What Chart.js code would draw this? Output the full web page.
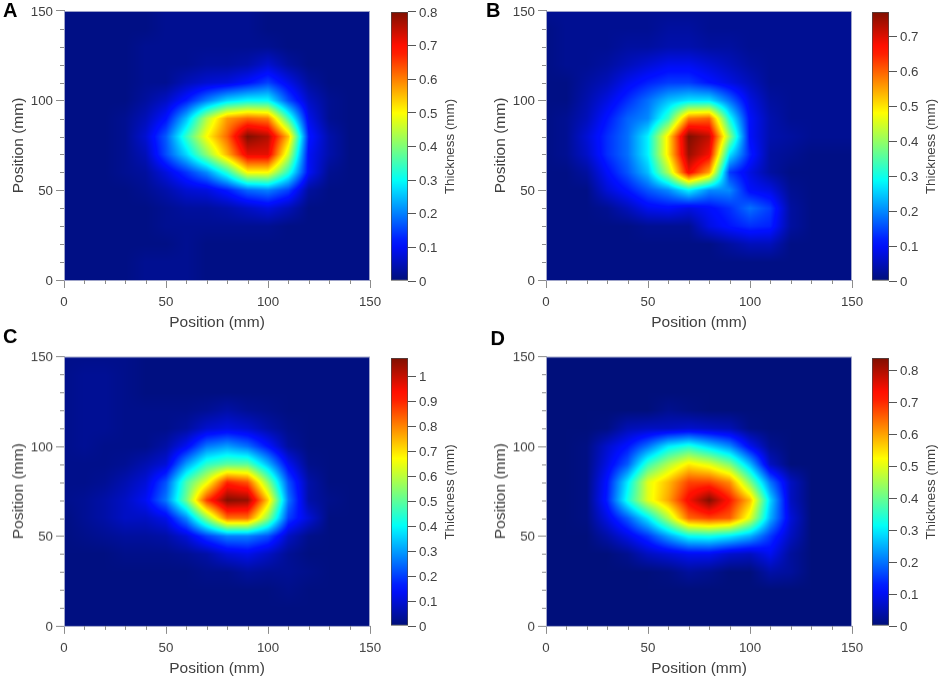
<!DOCTYPE html>
<html><head><meta charset="utf-8">
<script src="https://cdn.jsdelivr.net/npm/chart.js@4/dist/chart.umd.min.js"></script>
<style>html,body{margin:0;padding:0;background:#fff;width:941px;height:678px;overflow:hidden}canvas{position:absolute;display:block}</style>
</head><body>
<script>
const positions = [0,10,20,30,40,50,60,70,80,90,100,110,120,130,140,150];
const minorTicks = [10,20,30,40,60,70,80,90,110,120,130,140];
const rowsDescending = [150,140,130,120,110,100,90,80,70,60,50,40,30,20,10,0];
const barMaxA = 0.8, barMaxB = 0.769, barMaxC = 1.073, barMaxD = 0.84;
const thicknessA = [
[.01,.01,.01,.01,.01,.02,.02,.02,.02,.02,.01,.01,.01,.01,.01,.01],
[.01,.01,.01,.01,.01,.02,.02,.02,.02,.02,.01,.01,.01,.01,.01,.01],
[.01,.01,.01,.01,.02,.02,.02,.02,.02,.02,.02,.01,.01,.01,.01,.01],
[.01,.01,.01,.01,.02,.02,.02,.03,.03,.04,.07,.03,.01,.01,.01,.01],
[.01,.01,.01,.01,.02,.02,.05,.07,.08,.11,.15,.09,.03,.01,.01,.01],
[.01,.01,.01,.01,.03,.06,.12,.20,.27,.30,.30,.16,.06,.02,.01,.01],
[.01,.01,.01,.02,.05,.11,.25,.44,.58,.62,.60,.35,.09,.02,.01,.01],
[.01,.01,.01,.02,.07,.17,.34,.50,.62,.80,.76,.55,.12,.04,.01,.01],
[.01,.01,.01,.02,.05,.16,.27,.41,.56,.72,.72,.46,.10,.04,.01,.01],
[.01,.01,.01,.02,.03,.08,.14,.21,.33,.50,.50,.33,.10,.02,.01,.01],
[.01,.01,.01,.01,.02,.04,.07,.08,.12,.18,.20,.15,.03,.01,.01,.01],
[.01,.01,.01,.01,.01,.02,.03,.03,.04,.06,.08,.05,.01,.01,.01,.01],
[.01,.01,.01,.01,.01,.02,.02,.02,.02,.02,.02,.01,.01,.01,.01,.01],
[.01,.01,.01,.01,.01,.01,.02,.01,.01,.01,.01,.01,.01,.01,.01,.01],
[.01,.01,.01,.01,.02,.02,.02,.01,.01,.01,.01,.01,.01,.01,.01,.01],
[.01,.01,.01,.01,.02,.02,.02,.01,.01,.01,.01,.01,.01,.01,.01,.01]];
const thicknessB = [
[.02,.02,.02,.02,.02,.02,.02,.02,.02,.02,.02,.02,.02,.02,.02,.02],
[.01,.02,.02,.02,.02,.02,.03,.03,.02,.02,.02,.02,.02,.02,.02,.02],
[.01,.02,.02,.02,.03,.03,.04,.04,.03,.03,.02,.02,.02,.02,.02,.02],
[.01,.02,.02,.03,.05,.07,.09,.09,.07,.05,.03,.02,.02,.02,.02,.02],
[.01,.01,.03,.05,.09,.12,.14,.14,.11,.08,.05,.02,.02,.02,.02,.02],
[.01,.01,.04,.08,.13,.18,.24,.27,.27,.18,.08,.03,.02,.02,.02,.02],
[.01,.02,.05,.11,.17,.20,.33,.58,.60,.30,.10,.04,.02,.02,.02,.02],
[.01,.02,.07,.13,.18,.28,.50,.77,.72,.40,.10,.04,.03,.02,.02,.02],
[.01,.02,.06,.13,.18,.28,.50,.75,.68,.27,.12,.03,.02,.01,.01,.01],
[.01,.01,.03,.10,.16,.24,.42,.68,.55,.14,.08,.03,.01,.01,.01,.01],
[.01,.01,.01,.07,.11,.16,.20,.28,.20,.20,.10,.08,.02,.01,.01,.01],
[.01,.01,.01,.02,.05,.09,.10,.08,.10,.13,.18,.14,.03,.01,.01,.01],
[.01,.01,.01,.01,.01,.02,.02,.02,.08,.11,.13,.12,.03,.01,.01,.01],
[.01,.01,.01,.01,.01,.01,.01,.01,.01,.03,.05,.05,.01,.01,.01,.01],
[.01,.01,.01,.01,.01,.01,.01,.01,.01,.01,.01,.01,.01,.01,.01,.01],
[.01,.01,.01,.01,.01,.01,.01,.01,.01,.01,.01,.01,.01,.01,.01,.01]];
const thicknessC = [
[.02,.02,.02,.02,.01,.01,.01,.01,.01,.01,.01,.01,.01,.01,.01,.01],
[.02,.03,.03,.02,.01,.01,.01,.01,.01,.01,.01,.01,.01,.01,.01,.01],
[.02,.03,.03,.02,.01,.01,.01,.01,.01,.01,.01,.01,.01,.01,.01,.01],
[.02,.03,.03,.02,.02,.02,.02,.03,.05,.03,.02,.01,.01,.01,.01,.01],
[.02,.03,.03,.02,.02,.02,.04,.09,.11,.09,.05,.02,.01,.01,.01,.01],
[.02,.03,.02,.02,.02,.05,.13,.26,.30,.25,.15,.04,.01,.01,.01,.01],
[.02,.02,.02,.03,.06,.10,.30,.45,.50,.50,.33,.13,.02,.01,.01,.01],
[.02,.02,.03,.06,.10,.22,.48,.65,.90,.85,.55,.22,.05,.01,.01,.01],
[.02,.03,.05,.08,.13,.26,.52,.88,1.07,1.05,.72,.26,.05,.02,.01,.01],
[.01,.03,.05,.08,.08,.12,.28,.55,.82,.82,.55,.20,.10,.01,.01,.01],
[.01,.02,.03,.04,.04,.05,.10,.20,.27,.27,.22,.08,.02,.01,.01,.01],
[.01,.01,.01,.02,.02,.02,.03,.05,.10,.12,.08,.03,.01,.01,.01,.01],
[.01,.01,.01,.01,.01,.01,.01,.02,.02,.04,.03,.03,.02,.01,.01,.01],
[.01,.01,.01,.01,.01,.01,.01,.01,.01,.01,.01,.02,.01,.01,.01,.01],
[.01,.01,.01,.01,.01,.01,.01,.01,.01,.01,.01,.01,.01,.01,.01,.01],
[.01,.01,.01,.01,.01,.01,.01,.01,.01,.01,.01,.01,.01,.01,.01,.01]];
const thicknessD = [
[.003,.003,.003,.003,.003,.003,.003,.003,.003,.003,.003,.003,.003,.003,.003,.003],
[.003,.003,.003,.003,.003,.003,.003,.003,.003,.003,.003,.003,.003,.003,.003,.003],
[.003,.003,.003,.003,.003,.003,.003,.003,.003,.003,.003,.003,.003,.003,.003,.003],
[.003,.003,.003,.003,.003,.003,.02,.01,.003,.003,.003,.003,.003,.003,.003,.003],
[.003,.003,.003,.01,.05,.06,.06,.07,.06,.05,.01,.003,.003,.003,.003,.003],
[.003,.003,.01,.07,.12,.20,.30,.34,.28,.22,.10,.02,.003,.003,.003,.003],
[.003,.003,.01,.09,.18,.36,.46,.54,.50,.42,.26,.06,.003,.003,.003,.003],
[.003,.003,.01,.12,.30,.50,.58,.68,.68,.62,.42,.20,.06,.003,.003,.003],
[.003,.003,.01,.13,.33,.50,.60,.74,.84,.72,.58,.28,.06,.003,.003,.003],
[.003,.003,.01,.09,.18,.30,.46,.65,.68,.66,.50,.25,.08,.003,.003,.003],
[.003,.003,.003,.04,.09,.15,.24,.32,.33,.30,.25,.15,.06,.003,.003,.003],
[.003,.003,.003,.003,.02,.06,.08,.10,.10,.07,.06,.10,.03,.003,.003,.003],
[.003,.003,.003,.003,.003,.003,.01,.03,.02,.003,.003,.04,.03,.003,.003,.003],
[.003,.003,.003,.003,.003,.003,.003,.003,.003,.003,.003,.003,.003,.003,.003,.003],
[.003,.003,.003,.003,.003,.003,.003,.003,.003,.003,.003,.003,.003,.003,.003,.003],
[.003,.003,.003,.003,.003,.003,.003,.003,.003,.003,.003,.003,.003,.003,.003,.003]];
const letters = ['A','B','C','D'];
const xTitle = 'Position (mm)', yTitle = 'Position (mm)', barTitle = 'Thickness (mm)';

const FONT = '"Liberation Sans", Arial, sans-serif';
const TXT = '#3f3f3f', AX = '#8c8c8c';
const clamp = v => Math.max(0, Math.min(1, v));
function jet(f){
  return [clamp(1.5-Math.abs(4*f-3))*255,
          Math.max(clamp(1.5-Math.abs(4*f-2)),.06)*255,
          clamp(1.47-Math.abs(4*f-1))*255];
}
const layouts = [
 {canvasLeft:0,    plotLeft:64,  plotW:306, canvasTop:0,   plotTop:10,  plotH:270, barLeft:391,   barTop:11,  barH:271, lx:3,   ly:17},
 {canvasLeft:481.5,plotLeft:64,  plotW:306, canvasTop:0,   plotTop:10,  plotH:270, barLeft:872,   barTop:11,  barH:271, lx:4,   ly:17},
 {canvasLeft:0,    plotLeft:64,  plotW:306, canvasTop:326, plotTop:30.5,plotH:269, barLeft:391,   barTop:357, barH:270, lx:3,   ly:17},
 {canvasLeft:481.5,plotLeft:64,  plotW:306, canvasTop:326, plotTop:30.5,plotH:269, barLeft:872,   barTop:357, barH:270, lx:8.5, ly:19}
];
const grids = [thicknessA,thicknessB,thicknessC,thicknessD];
const maxes = [barMaxA,barMaxB,barMaxC,barMaxD];

const heatPlugin = {
  id:'heat',
  beforeDatasetsDraw(chart,_,o){
    const {ctx,chartArea:a,scales:{x,y}} = chart;
    const L=Math.round(a.left),T=Math.round(a.top),W=Math.round(a.right-a.left),H=Math.round(a.bottom-a.top);
    const img=ctx.createImageData(W,H);
    const rows=o.grid;
    for(let j=0;j<H;j++){
      const vy=y.getValueForPixel(T+j+.5);
      const r=Math.max(0,Math.min(14,Math.floor((150-vy)/10)));
      const ty=(rowsDescending[r]-vy)/10;
      for(let i=0;i<W;i++){
        const vx=x.getValueForPixel(L+i+.5);
        const c=Math.max(0,Math.min(14,Math.floor(vx/10)));
        const tx=(vx-positions[c])/10;
        const v=(rows[r][c]*(1-tx)+rows[r][c+1]*tx)*(1-ty)+(rows[r+1][c]*(1-tx)+rows[r+1][c+1]*tx)*ty;
        const col=jet(v/o.max),p=(j*W+i)*4;
        img.data[p]=col[0];img.data[p+1]=col[1];img.data[p+2]=col[2];img.data[p+3]=255;
      }
    }
    ctx.putImageData(img,L,T);
  },
  afterDraw(chart,_,o){
    const {ctx,chartArea:a,scales:{x,y}} = chart;
    ctx.save();
    ctx.strokeStyle='#9ea3c9';ctx.lineWidth=1;
    ctx.strokeRect(a.left+.5,a.top+.5,a.right-a.left-1,a.bottom-a.top);
    ctx.strokeStyle=AX;ctx.beginPath();
    minorTicks.forEach(m=>{
      const px=Math.round(x.getPixelForValue(m))+.5,py=Math.round(y.getPixelForValue(m))+.5;
      ctx.moveTo(px,a.bottom);ctx.lineTo(px,a.bottom+4);
      ctx.moveTo(a.left,py);ctx.lineTo(a.left-4,py);
    });
    ctx.stroke();
    ctx.fillStyle='#000';ctx.font='bold 20px '+FONT;ctx.textBaseline='alphabetic';
    ctx.fillText(o.letter,o.lx,o.ly);
    ctx.restore();
  }
};
const barTitlePlugin = {
  id:'barTitle',
  afterDraw(chart,_,o){
    const {ctx,chartArea:a}=chart;
    ctx.save();
    ctx.translate(a.left+59.5,(a.top+a.bottom)/2);
    ctx.rotate(-Math.PI/2);
    ctx.fillStyle=TXT;ctx.font='13.4px '+FONT;ctx.textAlign='center';ctx.textBaseline='middle';
    ctx.fillText(barTitle,0,0);
    ctx.restore();
  }
};
function mk(tag,l,t,w,h){
  const c=document.createElement('canvas');
  c.style.left=l+'px';c.style.top=t+'px';c.style.width=w+'px';c.style.height=h+'px';
  c.width=w;c.height=h;document.body.appendChild(c);return c;
}
letters.forEach((letter,i)=>{
  const g=layouts[i],rows=grids[i],mx=maxes[i];
  const points=[];
  rowsDescending.forEach((yv,r)=>positions.forEach((xv,c)=>points.push({x:xv,y:yv,v:rows[r][c]})));
  const axisCommon={
    type:'linear',min:0,max:150,
    grid:{drawOnChartArea:false,drawTicks:true,tickLength:8,tickColor:AX,tickWidth:1},
    border:{display:true,color:AX},
    ticks:{stepSize:50,color:TXT,font:{family:FONT,size:13.3},maxRotation:0,autoSkip:false}
  };
  const w=g.plotLeft+g.plotW+24,h=g.plotTop+g.plotH+54;
  new Chart(mk('p',g.canvasLeft,g.canvasTop,w,h),{
    type:'scatter',
    data:{datasets:[{label:'Thickness '+letter,data:points,pointRadius:0,pointHoverRadius:0}]},
    options:{
      responsive:false,animation:false,devicePixelRatio:1,
      layout:{padding:{left:0,top:g.plotTop,right:24,bottom:2}},
      plugins:{legend:{display:false},tooltip:{enabled:false},
        heat:{grid:rows,max:mx,letter,lx:g.lx,ly:g.ly}},
      scales:{
        x:{...axisCommon,ticks:{...axisCommon.ticks,padding:6},
           title:{display:true,text:xTitle,color:TXT,font:{family:FONT,size:15.5},padding:{top:0,bottom:0}},
           afterFit(s){s.height=52;}},
        y:{...axisCommon,ticks:{...axisCommon.ticks,padding:3,labelOffset:1},
           title:{display:true,text:yTitle,color:TXT,font:{family:FONT,size:15.5},padding:{top:9,bottom:0}},
           afterFit(s){s.width=g.plotLeft;}}
      }
    },
    plugins:[heatPlugin]
  });
  new Chart(mk('b',g.barLeft-7,g.barTop-10,86,g.barH+20),{
    type:'bar',
    data:{labels:[barTitle],datasets:[{data:[[0,mx]],barPercentage:1,categoryPercentage:1,
      borderColor:'#4a4a4a',borderWidth:1,borderSkipped:false,
      backgroundColor(c){
        const a=c.chart.chartArea;if(!a)return '#00f';
        const gr=c.chart.ctx.createLinearGradient(0,a.bottom,0,a.top);
        for(let k=0;k<=32;k++){const q=jet(k/32);gr.addColorStop(k/32,`rgb(${q[0]|0},${q[1]|0},${q[2]|0})`);}
        return gr;
      }}]},
    options:{
      responsive:false,animation:false,devicePixelRatio:1,
      layout:{padding:{left:7,top:10,right:0,bottom:10}},
      plugins:{legend:{display:false},tooltip:{enabled:false}},
      scales:{
        x:{display:false},
        y:{type:'linear',position:'right',min:0,max:mx,
           grid:{drawOnChartArea:false,tickLength:8,tickColor:'#555'},border:{display:false},
           ticks:{stepSize:.1,includeBounds:false,padding:3,labelOffset:1,color:TXT,font:{family:FONT,size:13.3},
                  callback:v=>String(+v.toFixed(1))},
           afterFit(s){s.width=62;}}
      }
    },
    plugins:[barTitlePlugin]
  });
});
</script>
</body></html>
